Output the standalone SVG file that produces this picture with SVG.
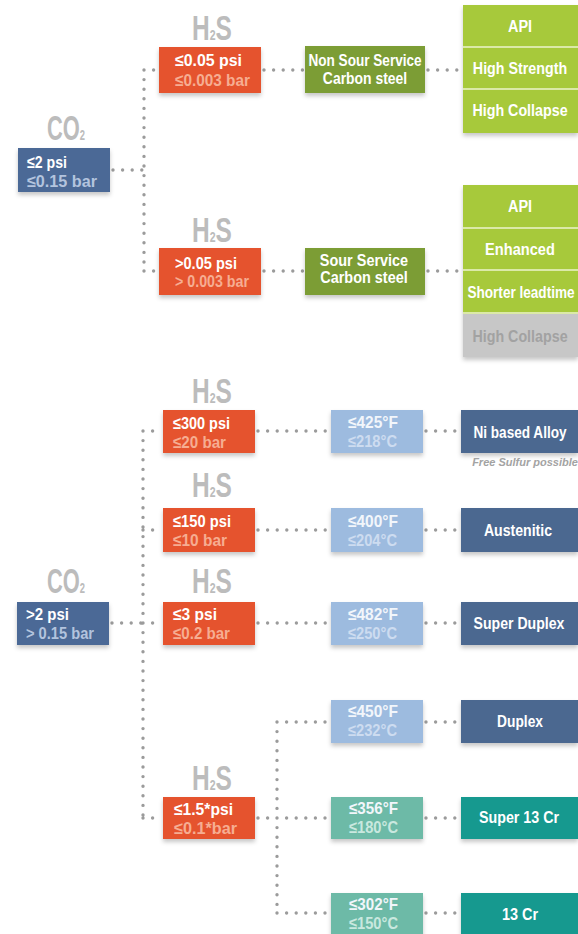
<svg xmlns="http://www.w3.org/2000/svg" width="578" height="934" viewBox="0 0 578 934">
<defs>
<filter id="sh" x="-10%" y="-10%" width="120%" height="150%"><feDropShadow dx="0" dy="3" stdDeviation="2" flood-color="#000" flood-opacity="0.22"/></filter>
<style>
text{font-family:"Liberation Sans",Arial,sans-serif;font-weight:bold}
.lbl{fill:#bcbcbc;font-size:35px}
.sub{font-size:15px}
.v{font-size:17px}
.a{font-size:17px;text-anchor:middle;fill:#fff}
.w{fill:#fff}
.ro{fill:#f6ad92}
.bl{fill:#b3c4de}
.tl{fill:#f2f6fb}
.tl2{fill:#cddcf0}
.tt2{fill:#c9e8df}
.red{fill:#e5532f}
.blue{fill:#4b6996}
.ol{fill:#7c9d35}
.lg{fill:#a7c93b}
.gr{fill:#c7c7c7}
.lb{fill:#9dbbdf}
.db{fill:#4c6890}
.lt{fill:#6dbaa7}
.dt{fill:#17998f}
.box{filter:url(#sh)}
.dot{stroke:#9b9b9b;stroke-width:3.4;stroke-linecap:round;stroke-dasharray:0 9.6;fill:none}
.div{stroke:#dbe9a8;stroke-width:2}
</style>
</defs>
<rect width="578" height="934" fill="#fff"/>

<g id="connectors">
<path class="dot" d="M113 170H144M144 70V271M144 70H157M264 70H303M428 70H461M144 271H157M264 271H303M428 271H461"/>
<path class="dot" d="M112 623H143M143 431V818M143 431H161M143 530H161M143 623H161M143 818H161M258 431H329M258 530H329M258 623H329M426 431H459M426 530H459M426 623H459M426 722H459M426 818H459M426 913H459M258 818H277M277 722V913M277 722H329M277 818H329M277 913H329"/>
</g>

<g id="labels">
<text class="lbl" transform="translate(192,40) scale(.7,1)">H<tspan class="sub">2</tspan>S</text>
<text class="lbl" transform="translate(47,140) scale(.625,1)">CO<tspan class="sub">2</tspan></text>
<text class="lbl" transform="translate(192,242) scale(.7,1)">H<tspan class="sub">2</tspan>S</text>
<text class="lbl" transform="translate(192,403) scale(.7,1)">H<tspan class="sub">2</tspan>S</text>
<text class="lbl" transform="translate(192,497) scale(.7,1)">H<tspan class="sub">2</tspan>S</text>
<text class="lbl" transform="translate(47,593) scale(.625,1)">CO<tspan class="sub">2</tspan></text>
<text class="lbl" transform="translate(192,593) scale(.7,1)">H<tspan class="sub">2</tspan>S</text>
<text class="lbl" transform="translate(192,790) scale(.7,1)">H<tspan class="sub">2</tspan>S</text>
</g>

<g id="co2-low">
<rect class="box blue" x="18" y="148" width="92" height="44"/>
<text class="v w" x="27" y="168" textLength="40" lengthAdjust="spacingAndGlyphs">≤2 psi</text>
<text class="v bl" x="27" y="187" textLength="70" lengthAdjust="spacingAndGlyphs">≤0.15 bar</text>
</g>

<g id="h2s-low-1">
<rect class="box red" x="159" y="47" width="102" height="46"/>
<text class="v w" x="175" y="66" textLength="67" lengthAdjust="spacingAndGlyphs">≤0.05 psi</text>
<text class="v ro" x="175" y="86" textLength="75" lengthAdjust="spacingAndGlyphs">≤0.003 bar</text>
</g>

<g id="h2s-high-1">
<rect class="box red" x="159" y="248" width="102" height="47"/>
<text class="v w" x="175" y="269" textLength="62" lengthAdjust="spacingAndGlyphs">&gt;0.05 psi</text>
<text class="v ro" x="175" y="287" textLength="74" lengthAdjust="spacingAndGlyphs">&gt; 0.003 bar</text>
</g>

<g id="non-sour">
<rect class="box ol" x="305" y="46" width="120" height="47"/>
<text class="a" font-size="16" transform="translate(365,66) scale(.8,1)">Non Sour Service</text>
<text class="a" font-size="16" transform="translate(365,84) scale(.82,1)">Carbon steel</text>
</g>

<g id="sour">
<rect class="box ol" x="305" y="248" width="120" height="47"/>
<text class="a" font-size="16" transform="translate(364,266) scale(.85,1)">Sour Service</text>
<text class="a" font-size="16" transform="translate(364,283) scale(.85,1)">Carbon steel</text>
</g>

<g id="grades-non-sour">
<rect class="box lg" x="463" y="5" width="115" height="128"/>
<line class="div" x1="463" y1="47" x2="578" y2="47"/>
<line class="div" x1="463" y1="89" x2="578" y2="89"/>
<text class="a" transform="translate(520,32) scale(.85,1)">API</text>
<text class="a" transform="translate(520,74) scale(.84,1)">High Strength</text>
<text class="a" transform="translate(520,116) scale(.84,1)">High Collapse</text>
</g>

<g id="grades-sour">
<rect class="box lg" x="463" y="185" width="115" height="172"/>
<rect class="gr" x="463" y="313" width="115" height="44"/>
<line class="div" x1="463" y1="228" x2="578" y2="228"/>
<line class="div" x1="463" y1="270" x2="578" y2="270"/>
<line class="div" x1="463" y1="313" x2="578" y2="313"/>
<text class="a" transform="translate(520,212) scale(.85,1)">API</text>
<text class="a" transform="translate(520,255) scale(.86,1)">Enhanced</text>
<text class="a" transform="translate(521,298) scale(.8,1)">Shorter leadtime</text>
<text class="a" transform="translate(520,342) scale(.84,1)" style="fill:#a2a2a2">High Collapse</text>
</g>

<g id="co2-high">
<rect class="box blue" x="17" y="602" width="92" height="43"/>
<text class="v w" x="26" y="620" textLength="43" lengthAdjust="spacingAndGlyphs">&gt;2 psi</text>
<text class="v bl" x="26" y="639" textLength="68" lengthAdjust="spacingAndGlyphs">&gt; 0.15 bar</text>
</g>

<g id="h2s-300">
<rect class="box red" x="163" y="410" width="92" height="43"/>
<text class="v w" x="173" y="429" textLength="57" lengthAdjust="spacingAndGlyphs">≤300 psi</text>
<text class="v ro" x="173" y="448" textLength="53" lengthAdjust="spacingAndGlyphs">≤20 bar</text>
</g>
<g id="h2s-150">
<rect class="box red" x="163" y="508" width="92" height="44"/>
<text class="v w" x="173" y="527" textLength="58" lengthAdjust="spacingAndGlyphs">≤150 psi</text>
<text class="v ro" x="173" y="546" textLength="54" lengthAdjust="spacingAndGlyphs">≤10 bar</text>
</g>
<g id="h2s-3">
<rect class="box red" x="163" y="602" width="92" height="43"/>
<text class="v w" x="173" y="620" textLength="44" lengthAdjust="spacingAndGlyphs">≤3 psi</text>
<text class="v ro" x="173" y="639" textLength="57" lengthAdjust="spacingAndGlyphs">≤0.2 bar</text>
</g>
<g id="h2s-1-5">
<rect class="box red" x="163" y="797" width="92" height="42"/>
<text class="v w" x="174" y="815" textLength="59" lengthAdjust="spacingAndGlyphs">≤1.5*psi</text>
<text class="v ro" x="174" y="834" textLength="63" lengthAdjust="spacingAndGlyphs">≤0.1*bar</text>
</g>

<g id="t-425">
<rect class="box lb" x="331" y="410" width="92" height="43"/>
<text class="v tl" x="348" y="428" textLength="50" lengthAdjust="spacingAndGlyphs">≤425°F</text>
<text class="v tl2" x="348" y="447" textLength="49" lengthAdjust="spacingAndGlyphs">≤218°C</text>
</g>
<g id="t-400">
<rect class="box lb" x="331" y="508" width="92" height="44"/>
<text class="v tl" x="348" y="527" textLength="50" lengthAdjust="spacingAndGlyphs">≤400°F</text>
<text class="v tl2" x="348" y="546" textLength="49" lengthAdjust="spacingAndGlyphs">≤204°C</text>
</g>
<g id="t-482">
<rect class="box lb" x="331" y="602" width="92" height="43"/>
<text class="v tl" x="348" y="620" textLength="50" lengthAdjust="spacingAndGlyphs">≤482°F</text>
<text class="v tl2" x="348" y="639" textLength="49" lengthAdjust="spacingAndGlyphs">≤250°C</text>
</g>
<g id="t-450">
<rect class="box lb" x="331" y="700" width="92" height="43"/>
<text class="v tl" x="348" y="717" textLength="50" lengthAdjust="spacingAndGlyphs">≤450°F</text>
<text class="v tl2" x="348" y="736" textLength="49" lengthAdjust="spacingAndGlyphs">≤232°C</text>
</g>
<g id="t-356">
<rect class="box lt" x="331" y="797" width="92" height="42"/>
<text class="v tl" x="349" y="814" textLength="49" lengthAdjust="spacingAndGlyphs">≤356°F</text>
<text class="v tt2" x="349" y="833" textLength="49" lengthAdjust="spacingAndGlyphs">≤180°C</text>
</g>
<g id="t-302">
<rect class="box lt" x="331" y="893" width="92" height="43"/>
<text class="v tl" x="349" y="910" textLength="49" lengthAdjust="spacingAndGlyphs">≤302°F</text>
<text class="v tt2" x="349" y="929" textLength="49" lengthAdjust="spacingAndGlyphs">≤150°C</text>
</g>

<g id="ni-alloy">
<rect class="box db" x="461" y="410" width="117" height="43"/>
<text class="a" transform="translate(520,438) scale(.8,1)">Ni based Alloy</text>
<text x="525" y="466" font-size="11" font-style="italic" font-weight="normal" text-anchor="middle" fill="#a3a3a3">Free Sulfur possible</text>
</g>
<g id="austenitic">
<rect class="box db" x="461" y="508" width="117" height="44"/>
<text class="a" transform="translate(518,536) scale(.83,1)">Austenitic</text>
</g>
<g id="super-duplex">
<rect class="box db" x="461" y="602" width="117" height="43"/>
<text class="a" transform="translate(519,629) scale(.83,1)">Super Duplex</text>
</g>
<g id="duplex">
<rect class="box db" x="461" y="700" width="117" height="43"/>
<text class="a" transform="translate(520,727) scale(.81,1)">Duplex</text>
</g>
<g id="super-13cr">
<rect class="box dt" x="461" y="797" width="117" height="42"/>
<text class="a" transform="translate(519,823) scale(.84,1)">Super 13 Cr</text>
</g>
<g id="13cr">
<rect class="box dt" x="461" y="893" width="117" height="43"/>
<text class="a" transform="translate(520,920) scale(.85,1)">13 Cr</text>
</g>
</svg>
